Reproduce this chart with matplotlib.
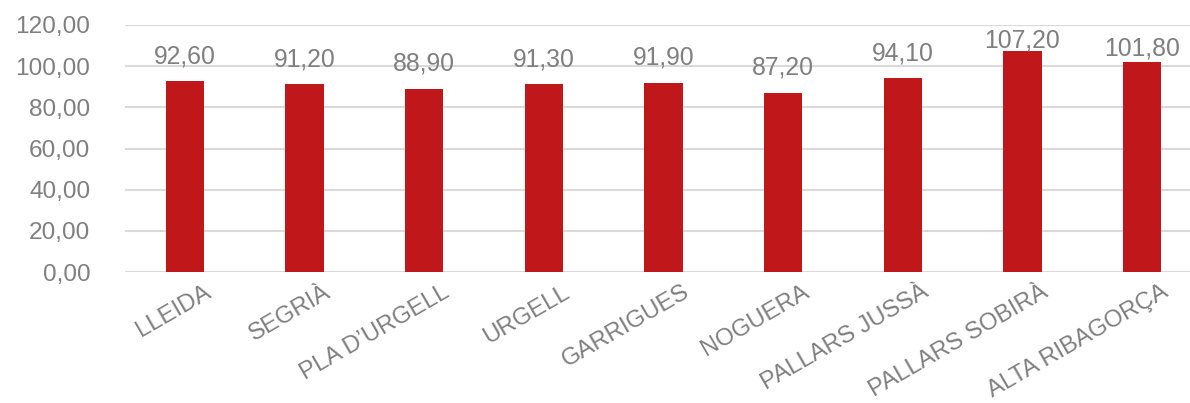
import matplotlib
matplotlib.use("Agg")
import matplotlib.pyplot as plt
import matplotlib.transforms as mtransforms
from matplotlib.ticker import FuncFormatter

comarques = ["LLEIDA", "SEGRIÀ", "PLA D\u2019URGELL", "URGELL", "GARRIGUES",
             "NOGUERA", "PALLARS JUSSÀ", "PALLARS SOBIRÀ", "ALTA RIBAGORÇA"]
valors = [92.60, 91.20, 88.90, 91.30, 91.90, 87.20, 94.10, 107.20, 101.80]

vermell = "#c0181a"
gris = "#7f7f7f"
plt.rcParams["font.family"] = ["Liberation Sans", "DejaVu Sans"]

def coma(v, pos=None):
    return f"{v:.2f}".replace(".", ",")

fig = plt.figure(figsize=(11.9, 4.03), dpi=100)
ax = fig.add_axes([125/1190, 1 - 272/403, 1 - 125/1190, (272 - 25)/403])

x = range(len(comarques))
ax.bar(x, valors, width=0.32, color=vermell, zorder=3)

# les etiquetes de les barres altes queden arrambades a la barra
for xi, v in zip(x, valors):
    dy = 13 if v < 100 else (5 if v < 105 else 3)
    ax.annotate(coma(v), (xi, v), xytext=(0, dy), textcoords="offset points",
                ha="center", va="baseline", fontsize=17.8, color=gris)

ax.set_ylim(0, 120)
ax.set_yticks(range(0, 121, 20))
ax.yaxis.set_major_formatter(FuncFormatter(coma))
ax.set_xlim(-0.5, 8.4)
ax.set_xticks(list(x))
ax.set_xticklabels(comarques)

ax.grid(axis="y", color="#d9d9d9", linewidth=1.5, zorder=0)
for s in ax.spines.values():
    s.set_visible(False)
ax.tick_params(axis="both", length=0, labelsize=17.6, labelcolor=gris)
ax.tick_params(axis="x", labelsize=17.2)
ax.tick_params(axis="y", pad=25)

desplac = mtransforms.ScaledTranslation(27/100, -19/100, fig.dpi_scale_trans)
for lab in ax.get_xticklabels():
    lab.set_rotation(30)
    lab.set_ha("right")
    lab.set_va("baseline")
    lab.set_rotation_mode("anchor")
    lab.set_transform(lab.get_transform() + desplac)

fig.savefig("out.png", dpi=100)
